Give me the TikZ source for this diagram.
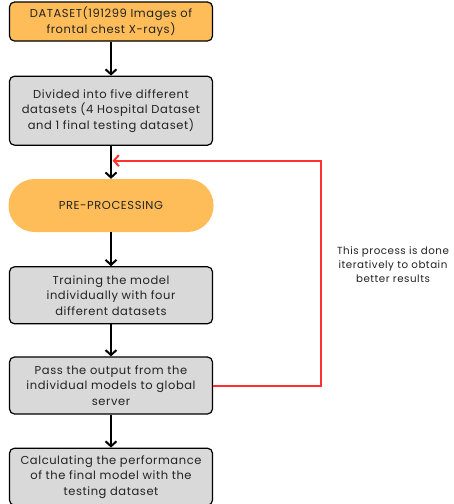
\documentclass[tikz,border=0pt]{standalone}
\usepackage{fontspec}
\setmainfont[LetterSpace=5]{Poppins}
\usetikzlibrary{arrows.meta,positioning,calc}
\definecolor{boxorange}{HTML}{FFBD59}
\definecolor{boxgray}{HTML}{D9D9D9}
\definecolor{loopred}{HTML}{FF3131}
\definecolor{txtdark}{HTML}{222222}
\tikzset{
  >={Straight Barb[length=5pt,width=11pt,line width=2pt]},
  box/.style={draw,line width=1.2pt,rounded corners=5pt,fill=boxgray,align=center,minimum width=203pt,font=\fontsize{11.5}{15.5}\selectfont,text=txtdark,inner sep=2pt},
  start/.style={box,fill=boxorange},
  pill/.style={draw=none,rounded corners=26pt,fill=boxorange,align=center,minimum width=205pt,font=\fontsize{11.5}{15.5}\selectfont,text=txtdark},
  flow/.style={->,line width=2pt},
  back/.style={->,line width=2pt,loopred},
  note/.style={align=center,font=\fontsize{10.3}{14}\selectfont,text=txtdark}
}
\begin{document}
\begin{tikzpicture}[node distance=34pt]
\useasboundingbox (0,0) rectangle (454pt,-504pt);
\node[start,minimum height=39pt](data) at (111pt,-21.5pt){DATASET(191299 Images of\\frontal chest X-rays)};
\node[box,minimum height=69pt,below=of data](split){Divided into five different\\datasets (4 Hospital Dataset\\and 1 final testing dataset)};
\node[pill,minimum height=53pt,below=33pt of split](prep){PRE-PROCESSING};
\node[box,minimum height=57pt,below=of prep](train){Training the model\\individually with four\\different datasets};
\node[box,minimum height=57pt,below=32pt of train](pass){Pass the output from the\\individual models to global\\server};
\node[box,minimum height=57pt,below=33pt of pass](calc){Calculating the performance\\of the final model with the\\testing dataset};
\node[note](iter) at (393pt,-265pt){This process is done\\iteratively to obtain\\better results};
\draw[flow](data)--(split);
\draw[flow](split)--(prep);
\draw[flow](prep)--(train);
\draw[flow](train)--(pass);
\draw[flow](pass)--(calc);
% loop back to pre-processing
\coordinate(join) at ($(split.south)!0.45!(prep.north)+(1.5pt,0)$);
\coordinate(turn) at (321pt,0 |- join);
\draw[back,rounded corners=0pt](pass.east)-|(turn)--(join);
\end{tikzpicture}
\end{document}
